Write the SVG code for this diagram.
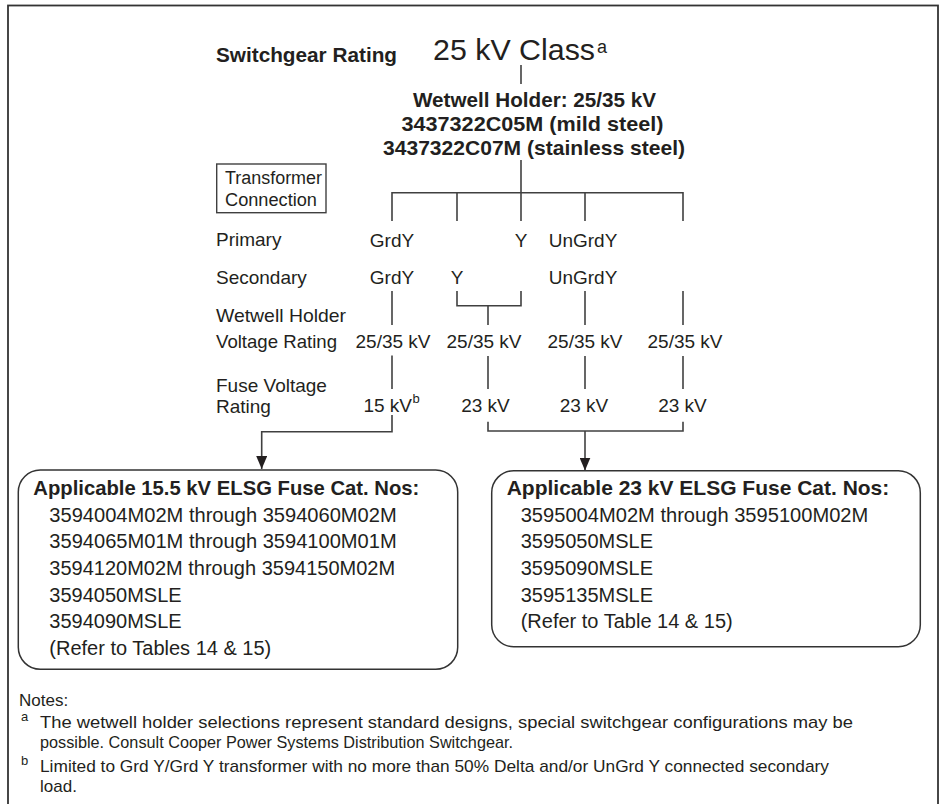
<svg xmlns="http://www.w3.org/2000/svg" width="943" height="804" viewBox="0 0 943 804">
<defs>
<style>
text{font-family:"Liberation Sans",Arial,Helvetica,sans-serif;fill:#231f20}
.b{font-weight:bold}
.lab{font-size:19px}
.box{font-size:20px}
.note{font-size:17px}
.sup{font-size:13px}
.ln{fill:none;stroke:#404040;stroke-width:1.6}
.frame{fill:#fff;stroke:#333;stroke-width:1.8}
.nb{fill:#fff;stroke:#333;stroke-width:1.5}
</style>
<marker id="ah" markerUnits="userSpaceOnUse" markerWidth="13" markerHeight="11" refX="13" refY="5.5" orient="auto">
<path d="M0,0 L13,5.5 L0,11 z" fill="#231f20"/>
</marker>
</defs>
<rect x="8" y="5.5" width="930" height="805" class="frame"/>

<g id="title">
<text x="216" y="61.5" class="b" font-size="21" textLength="181" lengthAdjust="spacingAndGlyphs">Switchgear Rating</text>
<text x="433" y="60" font-size="30" textLength="162" lengthAdjust="spacingAndGlyphs">25 kV Class</text>
<text x="597" y="53" font-size="18">a</text>
</g>

<g id="wetwell-holder">
<text x="413" y="106.5" class="b" font-size="21" textLength="243" lengthAdjust="spacingAndGlyphs">Wetwell Holder: 25/35 kV</text>
<text x="401.5" y="130.5" class="b" font-size="21" textLength="262" lengthAdjust="spacingAndGlyphs">3437322C05M (mild steel)</text>
<text x="383" y="154.5" class="b" font-size="21" textLength="302" lengthAdjust="spacingAndGlyphs">3437322C07M (stainless steel)</text>
</g>

<g id="transformer-connection">
<rect x="216.7" y="164" width="109.3" height="48.7" fill="none" stroke="#404040" stroke-width="1.4"/>
<text x="225" y="184" font-size="18" textLength="97" lengthAdjust="spacingAndGlyphs">Transformer</text>
<text x="225" y="206" font-size="18" textLength="92" lengthAdjust="spacingAndGlyphs">Connection</text>
</g>

<g id="row-labels" class="lab">
<text x="216" y="246">Primary</text>
<text x="216" y="283.5">Secondary</text>
<text x="216" y="321.5" textLength="130" lengthAdjust="spacingAndGlyphs">Wetwell Holder</text>
<text x="216" y="348" textLength="121" lengthAdjust="spacingAndGlyphs">Voltage Rating</text>
<text x="216" y="391.5">Fuse Voltage</text>
<text x="216" y="413.3">Rating</text>
</g>

<g id="primary" class="lab" text-anchor="middle">
<text x="392" y="246.5">GrdY</text>
<text x="521" y="246.5">Y</text>
<text x="583" y="246.5">UnGrdY</text>
</g>

<g id="secondary" class="lab" text-anchor="middle">
<text x="392" y="284">GrdY</text>
<text x="457" y="284">Y</text>
<text x="583" y="284">UnGrdY</text>
</g>

<g id="holder-voltage" class="lab" text-anchor="middle">
<text x="393" y="348.3">25/35 kV</text>
<text x="484" y="348.3">25/35 kV</text>
<text x="585" y="348.3">25/35 kV</text>
<text x="685" y="348.3">25/35 kV</text>
</g>

<g id="fuse-voltage" class="lab">
<text x="412" y="411.7" text-anchor="end">15 kV</text>
<text x="412.5" y="403" class="sup">b</text>
<text x="485.5" y="411.7" text-anchor="middle">23 kV</text>
<text x="584" y="411.7" text-anchor="middle">23 kV</text>
<text x="682.5" y="411.7" text-anchor="middle">23 kV</text>
</g>

<g id="connectors" class="ln">
<path d="M521,65 V84"/>
<path d="M521,160 V192.7"/>
<path d="M392,221 V192.7 H683 V221"/>
<path d="M457,192.7 V221"/>
<path d="M521,192.7 V221"/>
<path d="M585,192.7 V221"/>
<path d="M392,291 V325"/>
<path d="M457,291 V305.7 H521 V291"/>
<path d="M488,305.7 V325"/>
<path d="M585,291 V325"/>
<path d="M683,291 V325"/>
<path d="M392,355.5 V389"/>
<path d="M488,356 V389"/>
<path d="M585,356 V389"/>
<path d="M683,356 V389"/>
<path d="M392,415 V431.7 H261.7 V469" marker-end="url(#ah)"/>
<path d="M488,421.7 V431 H683 V421.7"/>
<path d="M585,431 V470.5" marker-end="url(#ah)"/>
</g>

<g id="box-15kv">
<rect x="18.3" y="470" width="439.4" height="199.3" rx="22" ry="22" class="nb"/>
<text x="33.3" y="495" class="b" font-size="20.5" textLength="386" lengthAdjust="spacingAndGlyphs">Applicable 15.5 kV ELSG Fuse Cat. Nos:</text>
<g class="box">
<text x="49.3" y="521.7" textLength="347.4" lengthAdjust="spacingAndGlyphs">3594004M02M through 3594060M02M</text>
<text x="49.3" y="548.3" textLength="347.4" lengthAdjust="spacingAndGlyphs">3594065M01M through 3594100M01M</text>
<text x="49.3" y="575">3594120M02M through 3594150M02M</text>
<text x="49.3" y="601.7">3594050MSLE</text>
<text x="49.3" y="628.3">3594090MSLE</text>
<text x="49.3" y="655">(Refer to Tables 14 &amp; 15)</text>
</g>
</g>

<g id="box-23kv">
<rect x="491.7" y="470.7" width="428.6" height="176" rx="22" ry="22" class="nb"/>
<text x="506.7" y="495" class="b" font-size="20.5" textLength="382.6" lengthAdjust="spacingAndGlyphs">Applicable 23 kV ELSG Fuse Cat. Nos:</text>
<g class="box">
<text x="520.7" y="521.7" textLength="347.6" lengthAdjust="spacingAndGlyphs">3595004M02M through 3595100M02M</text>
<text x="520.7" y="548.3">3595050MSLE</text>
<text x="520.7" y="575">3595090MSLE</text>
<text x="520.7" y="601.7">3595135MSLE</text>
<text x="520.7" y="628.3">(Refer to Table 14 &amp; 15)</text>
</g>
</g>

<g id="notes" class="note">
<text x="19" y="706">Notes:</text>
<text x="21" y="721" class="sup">a</text>
<text x="40" y="728" textLength="813" lengthAdjust="spacingAndGlyphs">The wetwell holder selections represent standard designs, special switchgear configurations may be</text>
<text x="40" y="748" textLength="473" lengthAdjust="spacingAndGlyphs">possible. Consult Cooper Power Systems Distribution Switchgear.</text>
<text x="21" y="765" class="sup">b</text>
<text x="40" y="772" textLength="789" lengthAdjust="spacingAndGlyphs">Limited to Grd Y/Grd Y transformer with no more than 50% Delta and/or UnGrd Y connected secondary</text>
<text x="40" y="792">load.</text>
</g>
</svg>
